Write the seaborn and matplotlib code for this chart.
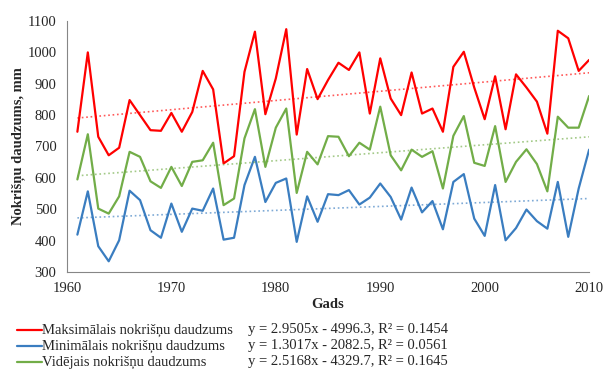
import matplotlib.pyplot as plt
import matplotlib.lines as mlines
import pandas as pd
import seaborn as sns

# Yearly precipitation values (mm)
years = list(range(1961, 2011))
max_precip = [747, 1000, 731, 672, 696, 848, 800, 752, 750, 807,
              747, 810, 941, 882, 646, 669, 938, 1066, 803, 917,
              1074, 738, 947, 851, 912, 967, 944, 1000, 805, 981,
              853, 800, 936, 805, 821, 747, 954, 1002, 888, 787,
              924, 755, 930, 888, 843, 741, 1069, 1045, 941, 976]
min_precip = [419, 557, 382, 334, 401, 559, 529, 433, 409, 518,
              428, 502, 495, 566, 403, 409, 577, 667, 523, 584,
              598, 396, 541, 460, 548, 545, 561, 515, 537, 582,
              539, 467, 569, 490, 526, 436, 587, 612, 470, 415,
              577, 401, 440, 499, 462, 438, 587, 412, 566, 690]
mean_precip = [595, 739, 502, 486, 541, 683, 667, 589, 568, 635,
               574, 651, 656, 712, 513, 534, 726, 819, 635, 760,
               821, 552, 683, 643, 733, 731, 669, 712, 690, 827,
               672, 624, 690, 667, 685, 566, 734, 797, 648, 638,
               765, 587, 651, 691, 644, 557, 795, 760, 760, 861]

series_names = ['Maksimālais nokrišņu daudzums',
                'Minimālais nokrišņu daudzums',
                'Vidējais nokrišņu daudzums']
equations = ['y = 2.9505x - 4996.3, R² = 0.1454',
             'y = 1.3017x - 2082.5, R² = 0.0561',
             'y = 2.5168x - 4329.7, R² = 0.1645']
colors = ['#ff0000', '#3a7dc0', '#72ad48']

df = pd.DataFrame({'Gads': years,
                   series_names[0]: max_precip,
                   series_names[1]: min_precip,
                   series_names[2]: mean_precip})

sns.set_style('white')
plt.rcParams['font.family'] = ['Liberation Serif', 'DejaVu Serif']

fig = plt.figure(figsize=(6.03, 3.69), dpi=100)
ax = fig.add_axes([0.111, 0.263, 0.866, 0.68])

# Draw series and dotted linear trends
for name, col in zip(series_names, colors):
    sns.lineplot(data=df, x='Gads', y=name, color=col, lw=1.6, ax=ax)
    sns.regplot(data=df, x='Gads', y=name, scatter=False, ci=None, ax=ax,
                line_kws={'color': col, 'ls': ':', 'lw': 1.2, 'alpha': 0.65})

ax.set_xlim(1960, 2010)
ax.set_ylim(300, 1100)
ax.set_xticks(range(1960, 2011, 10))
ax.set_yticks(range(300, 1101, 100))
ax.tick_params(labelsize=10.5, length=4, width=0.8, color='#868686', direction='out')
for s in ['top', 'right']:
    ax.spines[s].set_visible(False)
for s in ['left', 'bottom']:
    ax.spines[s].set_color('#868686')
    ax.spines[s].set_linewidth(0.8)
ax.set_xlabel('Gads', fontsize=10.5, fontweight='bold', labelpad=2)
ax.set_ylabel('Nokrišņu daudzums, mm', fontsize=10.5, fontweight='bold', labelpad=2)

# Legend below the plot with trend equations
row_y = [1 - 330 / 369, 1 - 346 / 369, 1 - 362 / 369]
for name, eq, col, y in zip(series_names, equations, colors, row_y):
    fig.add_artist(mlines.Line2D([17 / 603, 42 / 603], [y, y], color=col, lw=1.6))
    fig.text(42 / 603, y, name, fontsize=10.5, va='center', ha='left')
    fig.text(248 / 603, y, eq, fontsize=10.5, va='center', ha='left')

fig.savefig('out.png', dpi=100)
